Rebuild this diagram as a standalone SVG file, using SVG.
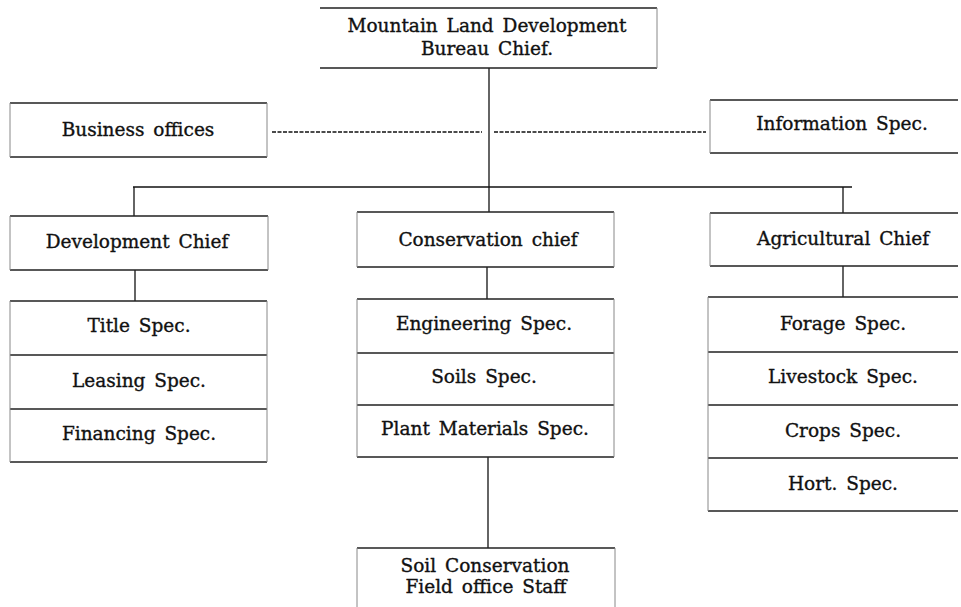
<svg xmlns="http://www.w3.org/2000/svg" width="961" height="607" viewBox="0 0 961 607">
<style>
.h{stroke:#222;stroke-width:1.3;fill:none}
.v{stroke:#888;stroke-width:1;fill:none}
.c{stroke:#111;stroke-width:1.3;fill:none}
.d{stroke:#111;stroke-width:1.3;stroke-dasharray:4 1.5;fill:none}
text{font-family:"DejaVu Serif","Liberation Serif",serif;font-size:18.5px;fill:#111;stroke:#111;stroke-width:0.35;text-anchor:middle;word-spacing:3px}
</style>
<rect width="961" height="607" fill="#fff"/>
<g id="connectors">
<line class="c" x1="489" y1="68" x2="489" y2="212"/>
<line class="c" x1="133" y1="187" x2="852" y2="187"/>
<line class="c" x1="134" y1="187" x2="134" y2="216"/>
<line class="c" x1="843" y1="187" x2="843" y2="213"/>
<line class="d" x1="272" y1="132" x2="482" y2="132"/>
<line class="d" x1="494" y1="132" x2="706" y2="132"/>
<line class="c" x1="135" y1="270" x2="135" y2="301"/>
<line class="c" x1="487" y1="267" x2="487" y2="299"/>
<line class="c" x1="843" y1="266" x2="843" y2="297"/>
<line class="c" x1="488" y1="457" x2="488" y2="548"/>
</g>
<g id="bureau-chief">
<path class="h" d="M320 8H657M320 68H657"/><path class="v" d="M657 8V68"/>
<text x="487" y="32">Mountain Land Development</text>
<text x="487" y="55">Bureau Chief.</text>
</g>
<g id="business-offices">
<path class="h" d="M10 103H267M10 157H267"/><path class="v" d="M10 103V157M267 103V157"/>
<text x="138" y="136">Business offices</text>
</g>
<g id="information-spec">
<path class="h" d="M710 100H958M710 153H958"/><path class="v" d="M710 100V153"/>
<text x="842" y="130">Information Spec.</text>
</g>
<g id="development-chief">
<path class="h" d="M10 216H268M10 270H268"/><path class="v" d="M10 216V270M268 216V270"/>
<text x="137" y="248">Development Chief</text>
</g>
<g id="development-staff">
<path class="h" d="M10 301H267M10 355H267M10 409H267M10 462H267"/><path class="v" d="M10 301V462M267 301V462"/>
<text x="139" y="332">Title Spec.</text>
<text x="139" y="387">Leasing Spec.</text>
<text x="139" y="440">Financing Spec.</text>
</g>
<g id="conservation-chief">
<path class="h" d="M357 212H614M357 267H614"/><path class="v" d="M357 212V267M614 212V267"/>
<text x="488" y="246">Conservation chief</text>
</g>
<g id="conservation-staff">
<path class="h" d="M357 299H614M357 353H614M357 405H614M357 457H614"/><path class="v" d="M357 299V457M614 299V457"/>
<text x="484" y="330">Engineering Spec.</text>
<text x="484" y="383">Soils Spec.</text>
<text x="485" y="435">Plant Materials Spec.</text>
</g>
<g id="soil-conservation">
<path class="h" d="M357 548H615"/><path class="v" d="M357 548V607M615 548V607"/>
<text x="485" y="572">Soil Conservation</text>
<text x="486" y="593">Field office Staff</text>
</g>
<g id="agricultural-chief">
<path class="h" d="M710 213H958M710 266H958"/><path class="v" d="M710 213V266"/>
<text x="843" y="245">Agricultural Chief</text>
</g>
<g id="agricultural-staff">
<path class="h" d="M708 297H958M708 352H958M708 405H958M708 458H958M708 511H958"/><path class="v" d="M708 297V511"/>
<text x="843" y="330">Forage Spec.</text>
<text x="843" y="383">Livestock Spec.</text>
<text x="843" y="437">Crops Spec.</text>
<text x="843" y="490">Hort. Spec.</text>
</g>
</svg>
